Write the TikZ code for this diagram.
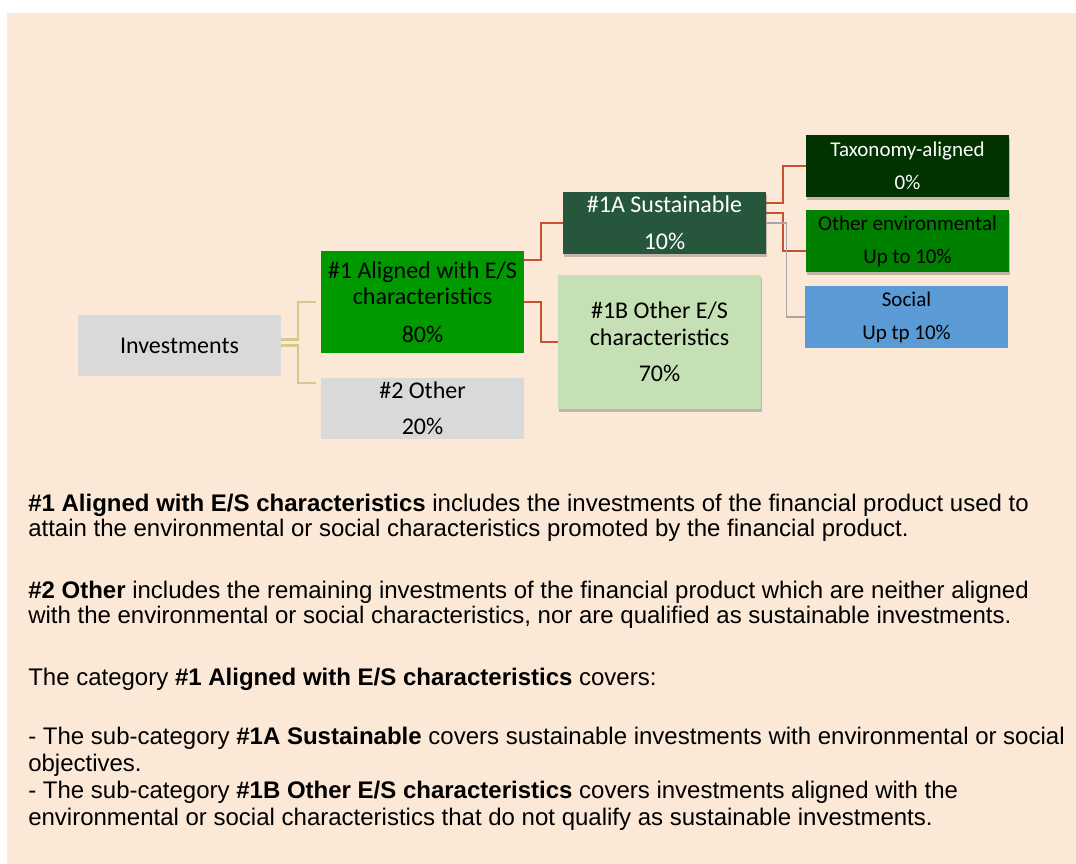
\documentclass[tikz,border=0pt]{standalone}
\usepackage{fontspec}
\setmainfont{Carlito}
\newfontfamily\bodyfont{Liberation Sans}
\usetikzlibrary{calc,shadows}
\definecolor{bgpeach}{HTML}{FBE8D7}
\definecolor{boxgray}{HTML}{D9D9D9}
\definecolor{gmain}{HTML}{009900}
\definecolor{gdark}{HTML}{26573C}
\definecolor{glight}{HTML}{C5E0B4}
\definecolor{gtax}{HTML}{003300}
\definecolor{genv}{HTML}{008000}
\definecolor{bsoc}{HTML}{5B9BD5}
\definecolor{linered}{HTML}{C9502F}
\definecolor{linetan}{HTML}{D6C98C}
\definecolor{linegray}{HTML}{A6A6A6}
\tikzset{
  box/.style={rectangle, inner sep=0pt, align=center, minimum width=152.25pt, minimum height=46pt},
  bigtxt/.style={font=\fontsize{18pt}{20pt}\selectfont},
  smalltxt/.style={font=\fontsize{15.75pt}{24.75pt}\selectfont},
  shad/.style={drop shadow={shadow xshift=0.6pt, shadow yshift=-2pt, opacity=0.22, fill=black}},
  redline/.style={draw=linered, line width=1.6pt},
  tanline/.style={draw=linetan, line width=1.6pt},
  grayline/.style={draw=linegray, line width=1.1pt},
  bodytext/.style={inner sep=0pt, anchor=base west, font=\bodyfont\fontsize{18pt}{21pt}\selectfont}
}
\begin{document}
\begin{tikzpicture}[x=0.75pt, y=-0.75pt]
\useasboundingbox (0,0) rectangle (1076,864);
\fill[bgpeach] (7,13) rectangle (1076,864);

% boxes
\node[box, bigtxt, fill=boxgray] (inv) at (179.5,345.5) {Investments};
\node[box, bigtxt, fill=gmain, minimum height=76.5pt] (a1) at (422.5,302) {\#1 Aligned with E/S\\characteristics\\[8pt]80\%};
\node[box, bigtxt, fill=boxgray] (a2) at (422.5,408.5) {\#2 Other\\[7pt]20\%};
\node[box, bigtxt, fill=gdark, text=white, shad, minimum height=46.5pt] (s1) at (664.5,223) {\#1A Sustainable\\[7.5pt]10\%};
\node[box, bigtxt, fill=glight, shad, minimum height=100.5pt] (b1) at (659.5,342) {\#1B Other E/S\\characteristics\\[7pt]70\%};
\node[box, smalltxt, fill=gtax, text=white, shad, minimum height=46.5pt] (tax) at (907.5,166) {Taxonomy-aligned\\0\%};
\node[box, smalltxt, fill=genv, shad, minimum height=46.5pt] (oe) at (907.5,241) {Other environmental\\Up to 10\%};
\node[box, smalltxt, fill=bsoc, minimum height=46.5pt] (soc) at (906.5,317) {Social\\Up tp 10\%};

% connectors
\draw[tanline] ($(inv.east)+(0,-6)$) -- ++(17,0) |- ($(a1.west)+(-5,0)$);
\draw[tanline] (inv.east) -- ++(17,0) |- ($(a2.north west)+(-5,5)$);
\draw[redline] ($(a1.north east)+(0,9)$) -- ++(17,0) |- (s1.west);
\draw[redline] (a1.east) -- ++(17,0) |- (b1.west);
\draw[redline] ($(s1.north east)+(0,11)$) -- ++(17,0) |- (tax.west);
\draw[redline] ($(s1.north east)+(0,21)$) -- ++(17,0) |- ($(oe.west)+(0,10)$);
\draw[grayline] (s1.east) -- ++(20,0) |- (soc.west);

% explanatory text
\node[bodytext] (t1) at (28,511.5) {\textbf{\#1 Aligned with E/S characteristics} includes the investments of the financial product used to};
\node[bodytext] (t2) at (28,536.5) {attain the environmental or social characteristics promoted by the financial product.};
\node[bodytext] (t3) at (28,598.5) {\textbf{\#2 Other} includes the remaining investments of the financial product which are neither aligned};
\node[bodytext] (t4) at (28,623.5) {with the environmental or social characteristics, nor are qualified as sustainable investments.};
\node[bodytext] (t5) at (28,685.5) {The category \textbf{\#1 Aligned with E/S characteristics} covers:};
\node[bodytext] (t6) at (28,744.5) {- The sub-category \textbf{\#1A Sustainable} covers sustainable investments with environmental or social};
\node[bodytext] (t7) at (28,771) {objectives.};
\node[bodytext] (t8) at (28,798.5) {- The sub-category \textbf{\#1B Other E/S characteristics} covers investments aligned with the};
\node[bodytext] (t9) at (28,825) {environmental or social characteristics that do not qualify as sustainable investments.};
\end{tikzpicture}
\end{document}
